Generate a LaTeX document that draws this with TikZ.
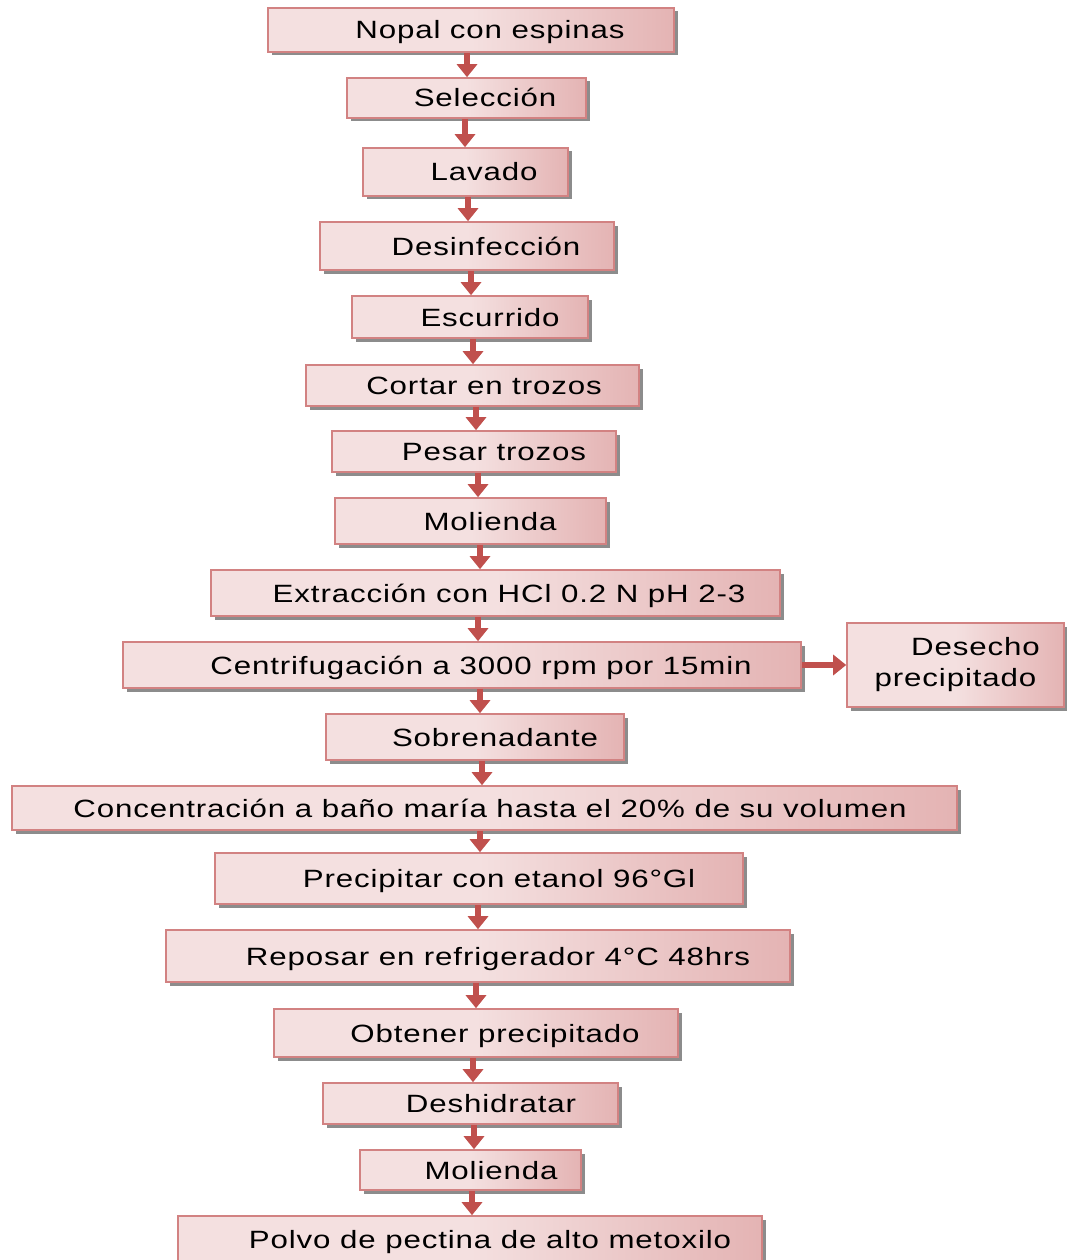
\documentclass[tikz,border=0pt]{standalone}
\usepackage{fontspec}
\setmainfont{Liberation Sans}[FakeStretch=1.25,LetterSpace=3.5]
\usetikzlibrary{arrows.meta,shadows,calc}
\definecolor{boxlight}{RGB}{244,224,224}
\definecolor{boxdark}{RGB}{212,135,135}
\definecolor{boxedge}{RGB}{210,130,130}
\definecolor{arrowred}{RGB}{192,80,77}
\pgfdeclarehorizontalshading{stageshade}{100bp}{color(0bp)=(boxdark!70!boxlight); color(10bp)=(boxlight); color(50bp)=(boxlight); color(100bp)=(boxdark)}
\tikzset{
  stagebox/.style={draw=boxedge, line width=1.6pt, shading=stageshade, inner sep=0pt,
    font=\fontsize{25}{31}\selectfont, text height=18pt, text depth=0pt,
    drop shadow={shadow xshift=3.5pt, shadow yshift=-3.5pt, fill=black!45, opacity=1}},
  flow/.style={draw=arrowred, line width=6pt, -{Triangle[width=20pt,length=13pt]}}
}
\newcommand\stage[7]{%
  \node[stagebox, minimum width={(#3-#2)*1pt}, minimum height={(#5-#4)*1pt}]
    (#1) at ({(#2+#3)/2},{(#4+#5)/2}) {\hspace*{#6pt}#7};}
\begin{document}
\begin{tikzpicture}[x=1pt,y=-1pt]
\useasboundingbox (0,0) rectangle (1066,1260);
\stage{s1}{268}{674}{8}{52}{38}{Nopal con espinas}
\stage{s2}{347}{586}{78}{118}{37}{Selección}
\stage{s3}{363}{568}{148}{196}{37}{Lavado}
\stage{s4}{320}{614}{222}{270}{38}{Desinfección}
\stage{s5}{352}{588}{296}{338}{40}{Escurrido}
\stage{s6}{306}{639}{365}{406}{23}{Cortar en trozos}
\stage{s7}{332}{616}{431}{472}{40}{Pesar trozos}
\stage{s8}{335}{606}{498}{544}{39}{Molienda}
\stage{s9}{211}{780}{570}{616}{27}{Extracción con HCl 0.2 N pH 2-3}
\stage{s10}{123}{801}{642}{688}{38}{Centrifugación a 3000 rpm por 15min}
\node[stagebox, text height=, text depth=, align=center, minimum width=217pt, minimum height=84pt]
  (s11) at (955.5,665) {\hspace*{40pt}Desecho\\precipitado};
\stage{s12}{326}{624}{714}{760}{40}{Sobrenadante}
\stage{s13}{12}{957}{786}{830}{11}{Concentración a baño maría hasta el 20\% de su volumen}
\stage{s14}{215}{743}{853}{904}{40}{Precipitar con etanol 96°Gl}
\stage{s15}{166}{790}{930}{982}{40}{Reposar en refrigerador 4°C 48hrs}
\stage{s16}{274}{678}{1009}{1057}{38}{Obtener precipitado}
\stage{s17}{323}{618}{1083}{1124}{41}{Deshidratar}
\stage{s18}{360}{581}{1150}{1190}{41}{Molienda}
\stage{s19}{178}{762}{1216}{1262}{40}{Polvo de pectina de alto metoxilo}
\foreach \a/\b/\x in {s1/s2/467, s2/s3/465, s3/s4/468, s4/s5/471, s5/s6/473, s6/s7/476,
  s7/s8/478, s8/s9/480, s9/s10/478, s10/s12/480, s12/s13/482, s13/s14/480, s14/s15/478,
  s15/s16/476, s16/s17/473, s17/s18/474, s18/s19/472}
  \draw[flow] (\a.south -| \x,0) -- (\b.north -| \x,0);
\draw[flow] (s10.east) -- (s11.west |- s10.east);
\end{tikzpicture}
\end{document}
